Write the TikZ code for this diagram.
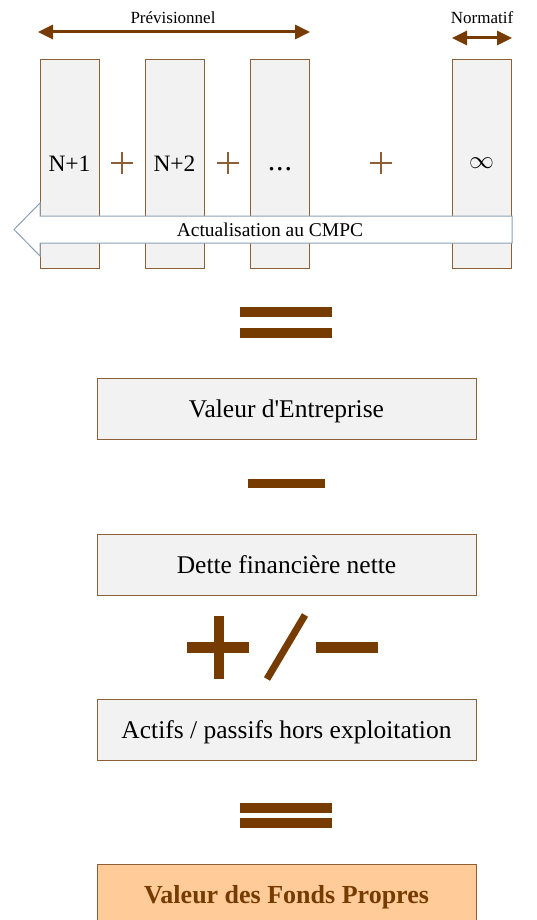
\documentclass[tikz,border=0pt]{standalone}
\usepackage{fontspec}
\setmainfont{Liberation Serif}
\usetikzlibrary{arrows.meta,positioning}
\definecolor{dcf-brown}{RGB}{117,59,0}
\definecolor{dcf-border}{RGB}{140,95,55}
\definecolor{dcf-grey}{RGB}{242,242,242}
\definecolor{dcf-peach}{RGB}{255,204,153}
\definecolor{dcf-blue}{RGB}{140,160,180}

\tikzset{
  yearbox/.style={draw=dcf-border, fill=dcf-grey, line width=1pt, minimum width=59pt, minimum height=208pt, inner sep=0pt, text height=15.5pt, text depth=0pt, font=\fontsize{23.5}{23.5}\selectfont},
  bigbox/.style={draw=dcf-border, fill=dcf-grey, line width=1pt, minimum width=379pt, minimum height=61pt, inner sep=0pt, text height=17pt, text depth=0pt, font=\fontsize{25.5}{25.5}\selectfont},
  spanarrow/.style={{Triangle[length=15pt,width=14pt]}-{Triangle[length=15pt,width=14pt]}, line width=3pt, color=dcf-brown},
  toplabel/.style={font=\fontsize{17}{17}\selectfont, inner sep=0pt},
  smallplus/.style={line width=1.3pt, color=dcf-border}
}

\begin{document}
\begin{tikzpicture}[x=1pt,y=-1pt]
\useasboundingbox (0,0) rectangle (537,920);

% horizon labels
\node[toplabel] (prev) at (173,18) {Prévisionnel};
\node[toplabel] (norm) at (482,18) {Normatif};
\coordinate (prev-l) at (38,32);
\coordinate (prev-r) at (310,32);
\coordinate (norm-l) at (452,38);
\coordinate (norm-r) at (512,38);
\draw[spanarrow] (prev-l) -- (prev-r);
\draw[spanarrow] (norm-l) -- (norm-r);

% cash flow years
\node[yearbox] (n1) at (69.5,164) {N+1};
\node[yearbox] (n2) at (174.5,164) {N+2};
\node[yearbox] (n3) at (280,164) {};
\node[font=\fontsize{30}{30}\selectfont, inner sep=0pt] (n3dots) at (280,169.5) {.\kern1pt.\kern1pt.};
\node[yearbox, text height=10pt] (ninf) at (481.5,164) {\fontsize{29}{29}\selectfont$\infty$};
\foreach \x in {122,228,381}
  \draw[smallplus] (\x-11,163) -- (\x+11,163) (\x,152) -- (\x,174);

% discounting arrow
\draw[draw=dcf-blue, fill=white, line width=1pt] (512,216) -- (40,216) -- (40,203) -- (14,229.5) -- (40,256) -- (40,243) -- (512,243) -- cycle;
\node[font=\fontsize{19.5}{19.5}\selectfont, inner sep=0pt, text height=13pt, text depth=0pt] (cmpc) at (270,229.5) {Actualisation au CMPC};

% =
\fill[dcf-brown] (240,307) rectangle (332,317);
\fill[dcf-brown] (240,328) rectangle (332,338);

\node[bigbox] (ve) at (286.5,408.5) {Valeur d\textquotesingle Entreprise};

% -
\fill[dcf-brown] (248,479) rectangle (325,488);

\node[bigbox] (dfn) at (286.5,564.5) {Dette financière nette};

% +/-
\fill[dcf-brown] (187,642) rectangle (249,653);
\fill[dcf-brown] (214,616) rectangle (224,679);
\draw[dcf-brown, line width=7pt] (267,679) -- (305,615);
\fill[dcf-brown] (316,642) rectangle (378,653);

\node[bigbox] (hexp) at (286.5,729.5) {Actifs / passifs hors exploitation};

% =
\fill[dcf-brown] (240,803) rectangle (332,813);
\fill[dcf-brown] (240,818) rectangle (332,828);

\node[bigbox, fill=dcf-peach, text=dcf-brown, font=\fontsize{26}{26}\selectfont\bfseries] (vfp) at (286.5,894.5) {Valeur des Fonds Propres};
\end{tikzpicture}
\end{document}
